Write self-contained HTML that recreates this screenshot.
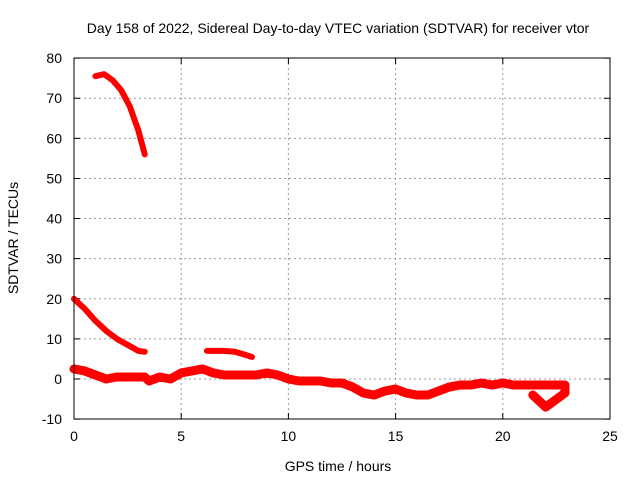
<!DOCTYPE html>
<html><head><meta charset="utf-8"><style>
body{margin:0;background:#fff}
svg{display:block;font-family:"Liberation Sans",sans-serif;font-size:14px}
</style></head><body>
<svg id="c" width="640" height="480">
<text x="338" y="33" text-anchor="middle">Day 158 of 2022, Sidereal Day-to-day VTEC variation (SDTVAR) for receiver vtor</text>
<text x="338" y="471" text-anchor="middle">GPS time / hours</text>
<text transform="translate(18,238) rotate(-90)" text-anchor="middle">SDTVAR / TECUs</text>
<g id="grid"></g><g id="series"></g>
<rect x="74" y="58" width="536" height="361" fill="none" stroke="#000"/>
</svg>
<script>
const xTicks=[0,5,10,15,20,25];
const yTicks=[-10,0,10,20,30,40,50,60,70,80];
const mainX=[0,0.5,1,1.5,2,2.5,3,3.3,3.5,4,4.5,5,5.5,6,6.5,7,7.5,8,8.5,9,9.5,10,10.5,11,11.5,12,12.5,13,13.5,14,14.5,15,15.5,16,16.5,17,17.5,18,18.5,19,19.5,20,20.5,21,21.5,22,22.5,22.9,22.9,22,21.4];
const mainY=[2.5,2,1,0,0.5,0.5,0.5,0.5,-0.5,0.5,0,1.5,2,2.5,1.5,1,1,1,1,1.5,1,0,-0.5,-0.5,-0.5,-1,-1,-2,-3.5,-4,-3,-2.5,-3.5,-4,-4,-3,-2,-1.5,-1.5,-1,-1.5,-1,-1.5,-1.5,-1.5,-1.5,-1.5,-1.5,-3.5,-7,-4];
const s2X=[0,0.5,1,1.5,2,2.5,3,3.3];
const s2Y=[20,17.5,14.5,12,10,8.5,7,6.8];
const s3X=[6.2,7,7.5,8,8.3];
const s3Y=[7,7,6.8,6,5.5];
const s4X=[1,1.4,1.8,2.2,2.6,3,3.3];
const s4Y=[75.5,76,74.5,72,68,62,56];
const X=v=>74+v*536/25, Y=v=>379-v*361/90;
const NS="http://www.w3.org/2000/svg";
const g=document.getElementById('grid'), s=document.getElementById('series');
function mk(tag,attrs,parent){const e=document.createElementNS(NS,tag);for(const k in attrs)e.setAttribute(k,attrs[k]);parent.appendChild(e);return e;}
xTicks.forEach(t=>{
 if(t>0&&t<25){const l=mk('line',{x1:X(t),x2:X(t),y1:58,y2:419,stroke:'#999','stroke-dasharray':'2,3'},g);
 
 }
 const m=mk('path',{d:`M${X(t)},419v-6M${X(t)},58v6`,stroke:'#000'},g);
 
 
 const tk=mk('text',{x:X(t),y:441,'text-anchor':'middle'},g);tk.textContent=t;
 
 
});
yTicks.forEach(t=>{
 if(t>-10&&t<80){const l=mk('line',{x1:74,x2:610,y1:Y(t),y2:Y(t),stroke:'#999','stroke-dasharray':'2,3'},g);
 
 }
 const m=mk('path',{d:`M74,${Y(t)}h6M610,${Y(t)}h-6`,stroke:'#000'},g);
 
 
 const tk=mk('text',{x:62,y:Y(t)+5,'text-anchor':'end'},g);tk.textContent=t;
 
 
});
function series(xs,ys,name,w){
 const p=xs.map((x,i)=>X(x)+','+Y(ys[i])).join(' ');
 const pl=mk('polyline',{points:p,fill:'none',stroke:'#f00','stroke-width':w,'stroke-linejoin':'round','stroke-linecap':'round'},s);
 
 
}
series(mainX,mainY,'series-main',9);
series(s2X,s2Y,'series-2',6);
series(s3X,s3Y,'series-3',6);
series(s4X,s4Y,'series-4',6);
</script>
</body></html>
